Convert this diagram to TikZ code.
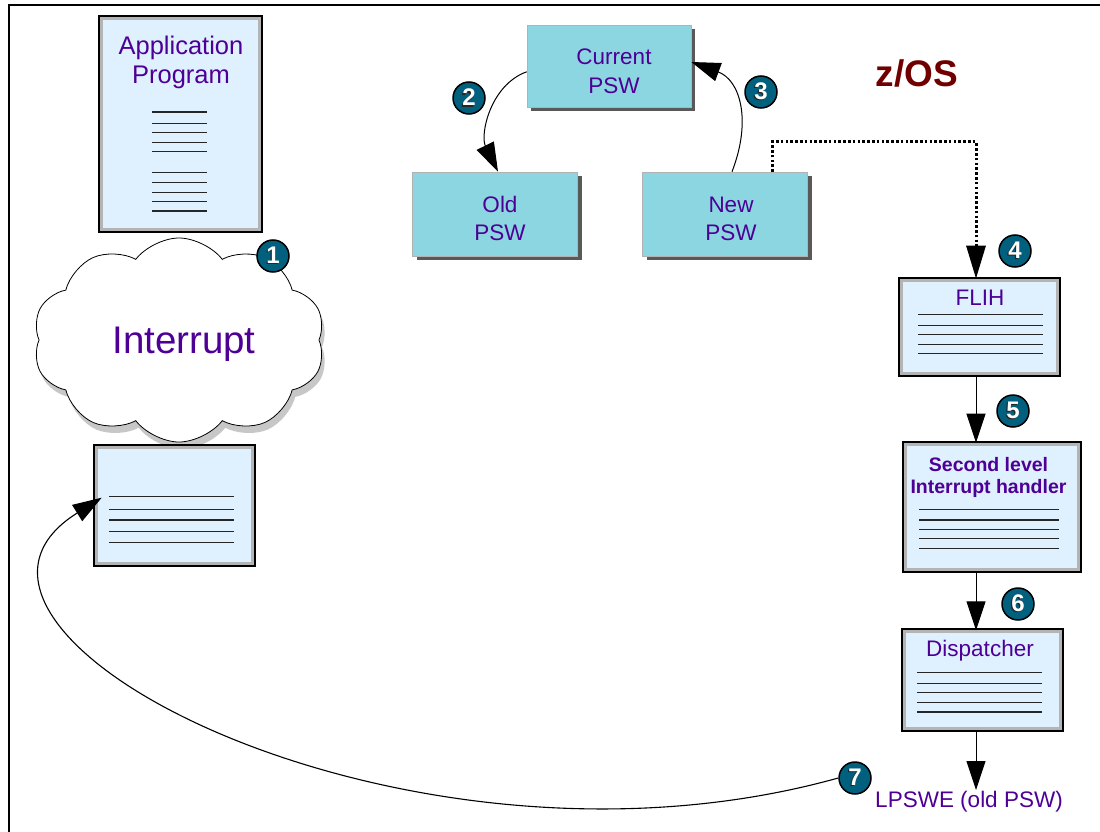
\documentclass[tikz,border=0pt]{standalone}
\usepackage{fontspec}
\setmainfont{Liberation Sans}
\usetikzlibrary{arrows.meta,shapes.symbols,shadows,calc}
\definecolor{txtc}{RGB}{78,0,150}
\definecolor{zosc}{RGB}{112,0,0}
\definecolor{docfill}{RGB}{223,240,255}
\definecolor{docgray}{RGB}{180,180,180}
\definecolor{pswfill}{RGB}{139,214,224}
\definecolor{badgec}{RGB}{0,96,126}
\newcommand\bnum[1]{\rlap{\kern-1.3pt\raisebox{-1.3pt}{\textcolor{black!85}{#1}}}\textcolor{white}{#1}}
\begin{document}
\begin{tikzpicture}[x=1pt,y=-1pt,
  doc/.style={rectangle, inner sep=0pt, fill=docfill, draw=docgray, line width=3pt,
    preaction={draw=black, line width=7pt}},
  docline/.style={line width=1.4pt, draw=black!85},
  psw/.style={rectangle, inner sep=0pt, fill=pswfill, draw=black!30, line width=0.6pt,
    drop shadow={shadow xshift=4pt, shadow yshift=-4pt, fill=black!65, opacity=1}},
  badge/.style={circle, fill=badgec, draw=black, line width=1.5pt, minimum size=32pt,
    inner sep=0pt, font=\bfseries\fontsize{24}{24}\selectfont},
  arr/.style={-{Triangle[length=29pt,width=19pt]}, line width=1pt},
  lbl/.style={text=txtc, inner sep=0pt, anchor=base},
  f22/.style={font=\fontsize{22.5}{22.5}\selectfont},
  f24/.style={font=\fontsize{25.5}{25.5}\selectfont}
]
\useasboundingbox (0,0) rectangle (1100,832);
% frame
\draw[line width=1.5pt] (9,832) -- (9,5) -- (1100,5);

% application program
\node[doc, minimum width=158pt, minimum height=211pt] (app) at (180.5,124) {};
\node[lbl,f24] (app1) at (181,55) {Application};
\node[lbl,f24] (app2) at (181,84) {Program};
\foreach \yy in {112,123.7,132.7,142.3,151.7,172.3,182.7,192.3,201.7,211}
  \draw[docline] (152,\yy) -- (207,\yy);

% cloud
\node[cloud, cloud puffs=10, cloud puff arc=105, aspect=1.45, draw=black, line width=0.8pt,
  fill=white, minimum width=292pt, minimum height=204pt,
  drop shadow={shadow xshift=3pt, shadow yshift=-7pt, fill=black!22, opacity=1}] (cloud) at (179,340) {};
\node[lbl, font=\fontsize{38.5}{38.5}\selectfont] (inttxt) at (184,353) {Interrupt};

% small box
\node[doc, minimum width=156.3pt, minimum height=116pt] (small) at (174.3,505.5) {};
\foreach \yy in {496.7,509.3,520,531.7,542.7}
  \draw[docline] (109,\yy) -- (234,\yy);
\coordinate (ret) at (101.7,497.7);

% PSW boxes
\node[psw, minimum width=164pt, minimum height=82pt] (cur) at (609,66) {};
\node[lbl,f22] (cur1) at (614,65) {Current};
\node[lbl,f22] (cur2) at (614,93.3) {PSW};
\node[psw, minimum width=165pt, minimum height=84pt] (old) at (495,214) {};
\node[lbl,f22] (old1) at (500,212.3) {Old};
\node[lbl,f22] (old2) at (500,240.7) {PSW};
\node[psw, minimum width=165pt, minimum height=84pt] (new) at (725,214) {};
\node[lbl,f22] (new1) at (731,212.3) {New};
\node[lbl,f22] (new2) at (731,240.7) {PSW};

% z/OS
\node[inner sep=0pt, anchor=base, text=zosc, font=\bfseries\fontsize{37}{37}\selectfont] (zos) at (917,87) {z/OS};

% FLIH
\node[doc, minimum width=155.7pt, minimum height=93.6pt] (flih) at (979.7,327) {};
\node[lbl,f22] (flih1) at (980,305) {FLIH};
\foreach \yy in {314.3,325.3,334.7,344.3,353.7}
  \draw[docline] (918,\yy) -- (1043,\yy);

% SLIH
\node[doc, minimum width=173.6pt, minimum height=125.6pt] (slih) at (992,507) {};
\node[lbl, font=\bfseries\fontsize{19.5}{19.5}\selectfont] (slih1) at (988.5,471.7) {Second level};
\node[lbl, font=\bfseries\fontsize{19.5}{19.5}\selectfont] (slih2) at (988.5,493.3) {Interrupt handler};
\foreach \yy in {509.3,520,529.3,538.7,548.3}
  \draw[docline] (919,\yy) -- (1059,\yy);

% Dispatcher
\node[doc, minimum width=156pt, minimum height=97pt] (disp) at (982.5,680.3) {};
\node[lbl,f22] (disp1) at (980,656.7) {Dispatcher};
\foreach \yy in {672.7,683.3,692.7,702.7,712}
  \draw[docline] (917,\yy) -- (1042,\yy);

% LPSWE
\node[lbl,f22] (lpswe) at (969,807) {LPSWE (old PSW)};
\coordinate (lpswetop) at (976,790);

% badges
\node[badge] (b1) at (273,256) {\bnum{1}};
\node[badge] (b2) at (469,98) {\bnum{2}};
\node[badge] (b3) at (761,92) {\bnum{3}};
\node[badge] (b4) at (1015,251) {\bnum{4}};
\node[badge] (b5) at (1013,411) {\bnum{5}};
\node[badge] (b6) at (1018,604) {\bnum{6}};
\node[badge] (b7) at (855,778) {\bnum{7}};

% connectors
\coordinate (colx) at (976,142);
\coordinate (dotx) at (772,142);
\draw[arr] ($(cur.north west)!0.57!(cur.south west)$) .. controls (490,85) and (480,135) .. ([xshift=3pt]old.north);
\draw[arr] ([xshift=7pt]new.north) .. controls (752,120) and (740,80) .. ([yshift=4pt]cur.east);
\draw[-{Triangle[length=33pt,width=19pt]}, line width=3pt, dash pattern=on 2.6pt off 2.2pt]
  (new.north -| dotx) -- (dotx) -- (colx) -- (flih.north -| colx);
\draw[arr] (flih.south -| colx) -- (slih.north -| colx);
\draw[arr] (slih.south -| colx) -- (disp.north -| colx);
\draw[arr] (disp.south -| colx) -- (lpswetop);
\draw[arr, line width=1.1pt] (b7.west) .. controls (400,900) and (-110,630) .. (ret);
\end{tikzpicture}
\end{document}
